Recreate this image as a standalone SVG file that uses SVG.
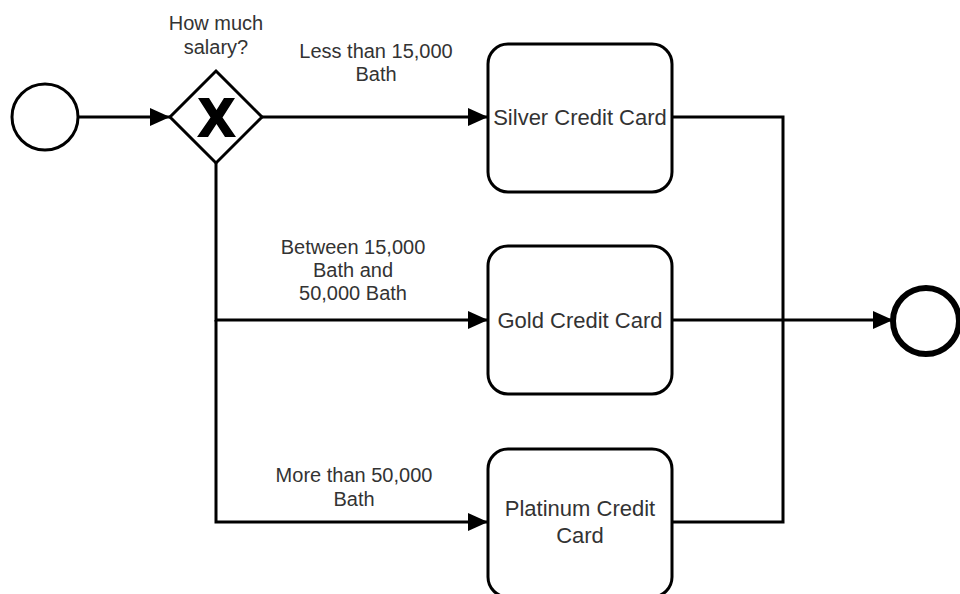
<svg xmlns="http://www.w3.org/2000/svg" width="960" height="594" viewBox="0 0 960 594">
  <defs>
    <marker id="arrow" markerWidth="20" markerHeight="18" refX="20" refY="9" orient="auto" markerUnits="userSpaceOnUse">
      <path d="M0,0 L20,9 L0,18 Z" fill="#000"/>
    </marker>
    <style>
      .edge { fill: none; stroke: #000; stroke-width: 3; }
      .task { fill: #fff; stroke: #000; stroke-width: 3; }
      .lbl { font-family: "Liberation Sans", Arial, sans-serif; font-size: 20px; fill: #333; text-anchor: middle; }
      .tlbl { font-family: "Liberation Sans", Arial, sans-serif; font-size: 22px; fill: #333; text-anchor: middle; }
    </style>
  </defs>
  <rect width="960" height="594" fill="#fff"/>

  <!-- connectors -->
  <g id="edges">
    <path class="edge" d="M79,117 L170,117" marker-end="url(#arrow)"/>
    <path class="edge" d="M262,117 L488,117" marker-end="url(#arrow)"/>
    <path class="edge" d="M216,163 L216,320 L488,320" marker-end="url(#arrow)"/>
    <path class="edge" d="M216,320 L216,522 L488,522" marker-end="url(#arrow)"/>
    <path class="edge" d="M672,117 L783,117 L783,522 L672,522"/>
    <path class="edge" d="M672,320 L893,320" marker-end="url(#arrow)"/>
    <text class="lbl" x="376" y="58">Less than 15,000</text>
    <text class="lbl" x="376" y="81">Bath</text>
    <text class="lbl" x="353" y="254">Between 15,000</text>
    <text class="lbl" x="353" y="277">Bath and</text>
    <text class="lbl" x="353" y="300">50,000 Bath</text>
    <text class="lbl" x="354" y="482">More than 50,000</text>
    <text class="lbl" x="354" y="506">Bath</text>
  </g>

  <g id="start">
    <circle cx="45" cy="117" r="33" fill="#fff" stroke="#000" stroke-width="3"/>
  </g>

  <g id="gateway">
    <path d="M216,71 L262,117 L216,163 L170,117 Z" fill="#fff" stroke="#000" stroke-width="3"/>
    <path d="M198,98 L209,98 L216.5,110 L224,98 L235,98 L222.5,117.5 L236,137 L225,137 L216.5,124 L208,137 L197,137 L210.5,117.5 Z" fill="#000"/>
    <text class="lbl" x="216" y="30">How much</text>
    <text class="lbl" x="216" y="54">salary?</text>
  </g>

  <g id="silver">
    <rect class="task" x="488" y="44" width="184" height="148" rx="20"/>
    <text class="tlbl" x="580" y="125">Silver Credit Card</text>
  </g>

  <g id="gold">
    <rect class="task" x="488" y="246" width="184" height="148" rx="20"/>
    <text class="tlbl" x="580" y="328">Gold Credit Card</text>
  </g>

  <g id="platinum">
    <rect class="task" x="488" y="449" width="184" height="148" rx="20"/>
    <text class="tlbl" x="580" y="516">Platinum Credit</text>
    <text class="tlbl" x="580" y="543">Card</text>
  </g>

  <g id="end">
    <circle cx="926" cy="321" r="33" fill="#fff" stroke="#000" stroke-width="6"/>
  </g>
</svg>
